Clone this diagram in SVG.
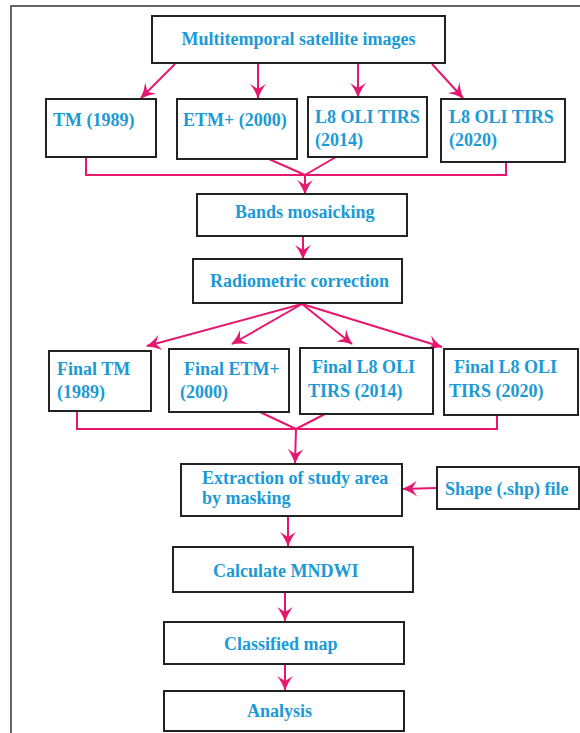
<svg xmlns="http://www.w3.org/2000/svg" width="580" height="733" viewBox="0 0 580 733">
<style>
.box{fill:#fff;stroke:#222;stroke-width:2}
.t{font-family:"Liberation Serif","Times New Roman",serif;font-weight:bold;font-size:18px;fill:#1b9ad6}
.c{fill:none;stroke:#e5176f;stroke-width:2}
.a{fill:none;stroke:#e5176f;stroke-width:2;marker-end:url(#ah)}
</style>
<defs>
<marker id="ah" viewBox="0 0 15 16" markerWidth="15" markerHeight="16" refX="14" refY="8" orient="auto" markerUnits="userSpaceOnUse">
<path d="M0,0 Q6,5 15,8 Q6,11 0,16 L5,8 z" fill="#e5176f"/>
</marker>
</defs>
<rect x="11" y="6" width="600" height="800" fill="#fff" stroke="#333" stroke-width="1.5"/>
<g id="connectors">
<line class="a" x1="175" y1="64" x2="141" y2="98"/>
<line class="a" x1="258" y1="64" x2="258" y2="98"/>
<line class="a" x1="358" y1="64" x2="358" y2="97"/>
<line class="a" x1="432" y1="64" x2="463" y2="98"/>
<polyline class="c" points="86,157 86,175 506,175 506,162"/>
<line class="c" x1="269" y1="159" x2="305" y2="175"/>
<line class="c" x1="336" y1="157" x2="305" y2="175"/>
<line class="a" x1="305" y1="175" x2="305" y2="194"/>
<line class="a" x1="303" y1="236" x2="303" y2="259"/>
<line class="a" x1="302" y1="304" x2="147" y2="346"/>
<line class="a" x1="302" y1="304" x2="232" y2="344"/>
<line class="a" x1="302" y1="304" x2="352" y2="344"/>
<line class="a" x1="302" y1="304" x2="442" y2="347"/>
<polyline class="c" points="77,411 77,429 497,429 497,415"/>
<line class="c" x1="260" y1="412" x2="296" y2="429"/>
<line class="c" x1="325" y1="414" x2="296" y2="429"/>
<line class="a" x1="296" y1="429" x2="295" y2="463"/>
<line class="a" x1="437" y1="488" x2="403" y2="489"/>
<line class="a" x1="288" y1="516" x2="288" y2="546"/>
<line class="a" x1="285" y1="592" x2="285" y2="621"/>
<line class="a" x1="285" y1="664" x2="285" y2="690"/>
</g>
<g id="n-multi"><rect class="box" x="152" y="16" width="293" height="47"/><text class="t" x="298.5" y="45" text-anchor="middle">Multitemporal satellite images</text></g>
<g id="n-tm"><rect class="box" x="46" y="99" width="110" height="58"/><text class="t" x="53" y="126">TM (1989)</text></g>
<g id="n-etm"><rect class="box" x="177" y="99" width="120" height="60"/><text class="t" x="183" y="126">ETM+ (2000)</text></g>
<g id="n-l814"><rect class="box" x="308" y="97" width="119" height="60"/><text class="t" x="315" y="123">L8 OLI TIRS</text><text class="t" x="315" y="146">(2014)</text></g>
<g id="n-l820"><rect class="box" x="441" y="99" width="124" height="63"/><text class="t" x="449" y="123">L8 OLI TIRS</text><text class="t" x="449" y="146">(2020)</text></g>
<g id="n-bands"><rect class="box" x="197" y="194" width="210" height="42"/><text class="t" x="235" y="218">Bands mosaicking</text></g>
<g id="n-radio"><rect class="box" x="193" y="259" width="209" height="44"/><text class="t" x="210" y="287">Radiometric correction</text></g>
<g id="n-ftm"><rect class="box" x="49" y="351" width="102" height="60"/><text class="t" x="57" y="375">Final TM</text><text class="t" x="57" y="398">(1989)</text></g>
<g id="n-fetm"><rect class="box" x="169" y="349" width="120" height="63"/><text class="t" x="184" y="375">Final ETM+</text><text class="t" x="180" y="398">(2000)</text></g>
<g id="n-fl814"><rect class="box" x="300" y="348" width="133" height="66"/><text class="t" x="312" y="373">Final L8 OLI</text><text class="t" x="308" y="397">TIRS (2014)</text></g>
<g id="n-fl820"><rect class="box" x="444" y="349" width="134" height="66"/><text class="t" x="454" y="373">Final L8 OLI</text><text class="t" x="449" y="397">TIRS (2020)</text></g>
<g id="n-extract"><rect class="box" x="181" y="464" width="221" height="52"/><text class="t" x="202" y="484">Extraction of study area</text><text class="t" x="202" y="504">by masking</text></g>
<g id="n-shape"><rect class="box" x="437" y="467" width="142" height="42"/><text class="t" x="445" y="495">Shape (.shp) file</text></g>
<g id="n-mndwi"><rect class="box" x="173" y="547" width="240" height="45"/><text class="t" x="213" y="577">Calculate MNDWI</text></g>
<g id="n-class"><rect class="box" x="164" y="622" width="240" height="42"/><text class="t" x="224" y="650">Classified map</text></g>
<g id="n-analysis"><rect class="box" x="164" y="691" width="240" height="40"/><text class="t" x="247" y="717">Analysis</text></g>
</svg>
